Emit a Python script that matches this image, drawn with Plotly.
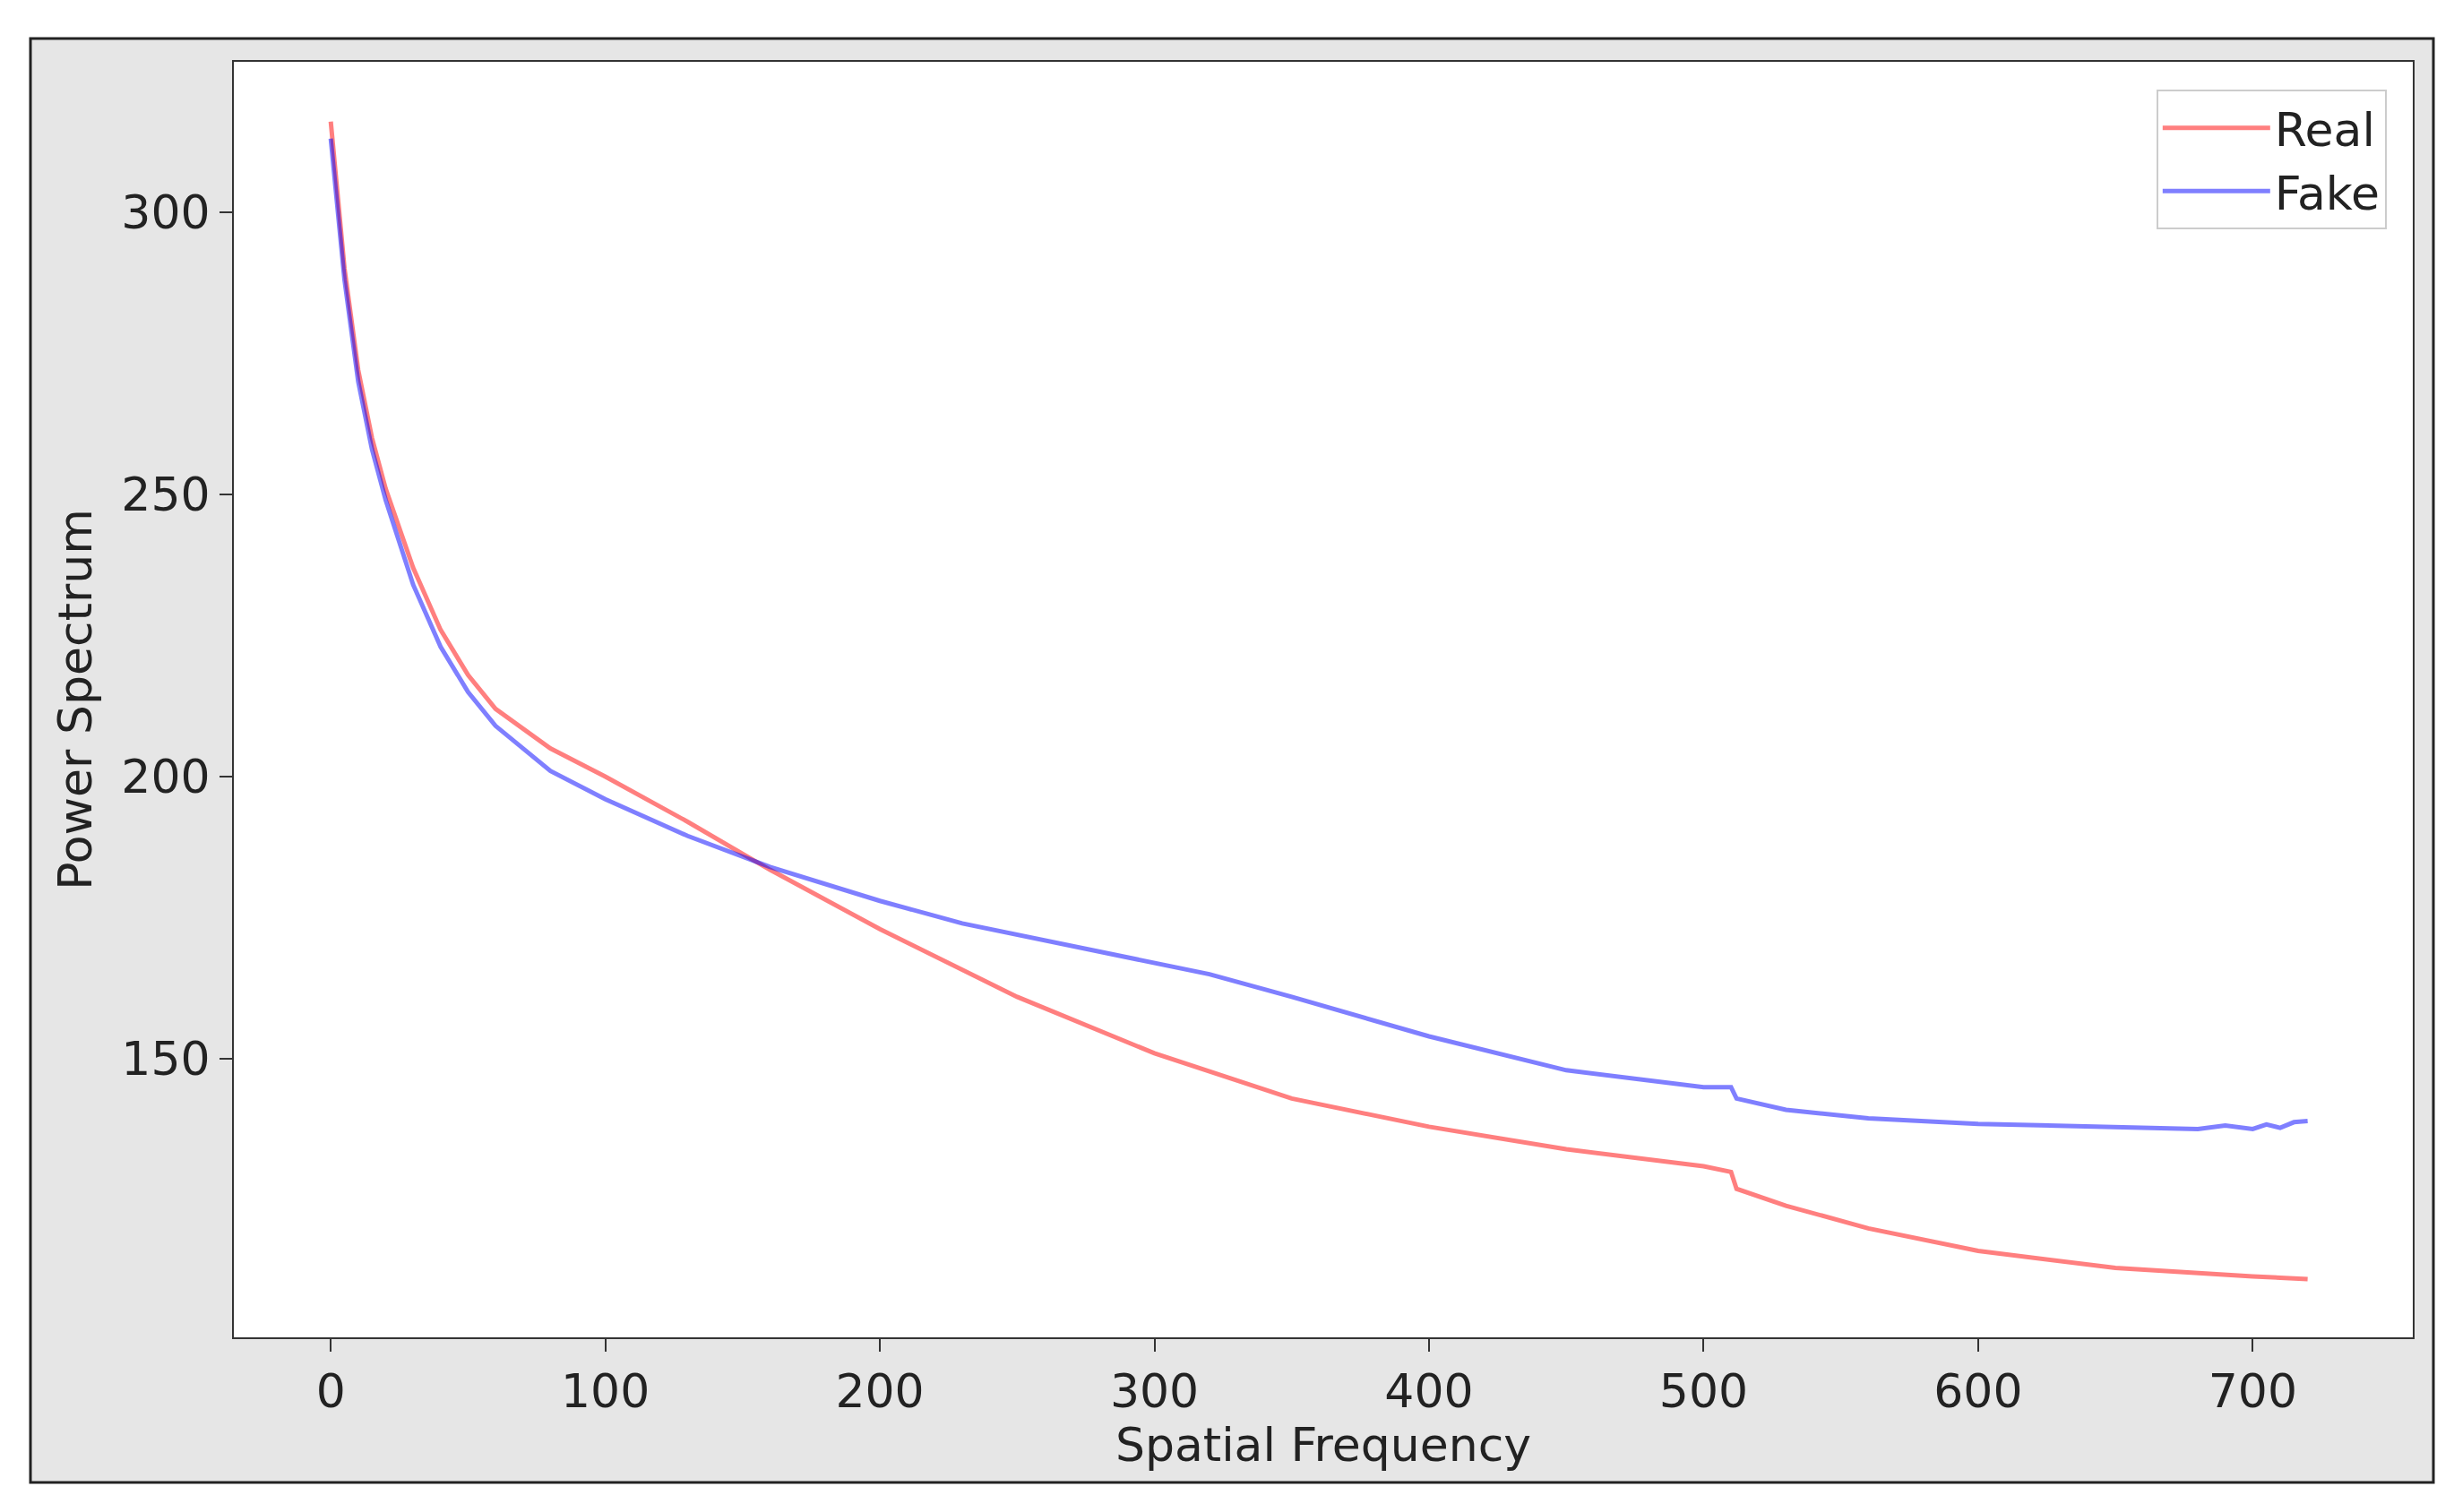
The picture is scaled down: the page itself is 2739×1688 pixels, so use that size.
import plotly.graph_objects as go

real_x = [0,2,5,10,15,20,30,40,50,60,80,100,130,160,200,250,300,350,400,450,500,510,512,530,560,600,650,700,720]
real_y = [316,305,290,272,260,251,237,226,218,212,205,200,192,183.5,173,161,151,143,138,134,131,130,127,124,120,116,113,111.5,111]
fake_x = [0,2,5,10,15,20,30,40,50,60,80,100,130,160,200,230,260,300,320,350,400,450,500,510,512,530,560,600,650,680,690,700,705,710,715,720]
fake_y = [313,303,288,270,258,249,234,223,215,209,201,196,189.5,184,178,174,171,167,165,161,154,148,145,145,143,141,139.5,138.5,138,137.6,138.2,137.6,138.4,137.8,138.8,139]

fig = go.Figure()
fig.add_trace(go.Scatter(x=real_x, y=real_y, mode="lines", name="Real",
                         line=dict(color="rgba(255,0,0,0.5)", width=5)))
fig.add_trace(go.Scatter(x=fake_x, y=fake_y, mode="lines", name="Fake",
                         line=dict(color="rgba(0,0,255,0.5)", width=5)))

font = dict(family="DejaVu Sans", size=52, color="#222")
axis = dict(showgrid=False, zeroline=False, showline=True, linecolor="#333", linewidth=2,
            mirror=True, ticks="outside", ticklen=14, tickwidth=2, tickcolor="#333",
            tickfont=font)
W, H = 2432, 1424
fig.update_layout(
    width=2739, height=1688, autosize=False,
    paper_bgcolor="white", plot_bgcolor="white",
    margin=dict(l=253, r=54, t=61, b=203),
    xaxis=dict(axis, range=[-35.3, 758.3], tickvals=[0,100,200,300,400,500,600,700],
               title=dict(text="Spatial Frequency", font=font, standoff=8)),
    yaxis=dict(axis, range=[100.7, 326.6], tickvals=[150,200,250,300],
               title=dict(text="Power Spectrum", font=font, standoff=16)),
    legend=dict(x=0.988, y=0.978, xanchor="right", yanchor="top", bgcolor="white",
                bordercolor="#ccc", borderwidth=2, font=font, itemwidth=120,
                tracegroupgap=10),
    shapes=[dict(type="rect", xref="paper", yref="paper", layer="below",
                 x0=(26-253)/W, x1=(2708-253)/W, y0=-(1647-1485)/H, y1=1+(61-35)/H,
                 fillcolor="#e6e6e6", line=dict(color="#222", width=3)),
            dict(type="rect", xref="paper", yref="paper", layer="below",
                 x0=0, x1=1, y0=0, y1=1, fillcolor="white", line=dict(width=0))],
)
fig.write_html("out.html", config={"responsive": False})
